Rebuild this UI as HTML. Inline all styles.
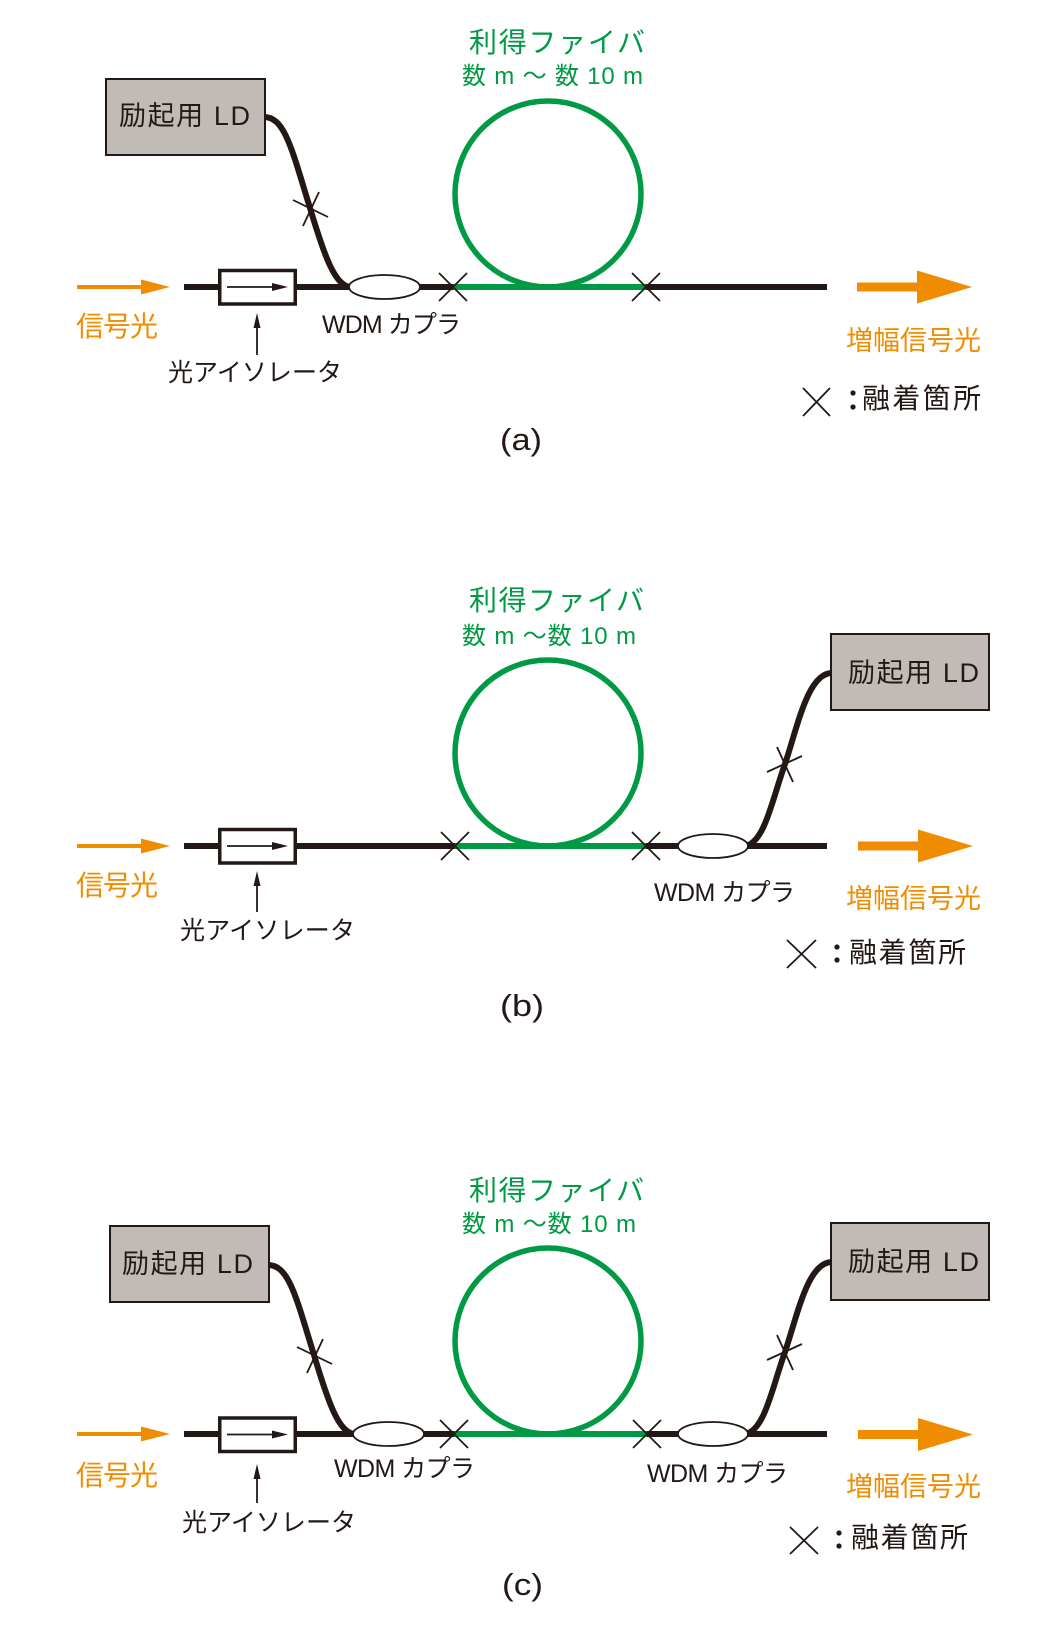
<!DOCTYPE html>
<html><head><meta charset="utf-8"><style>
html,body{margin:0;padding:0;background:#fff;}
svg{display:block;}
text{font-family:"Liberation Sans","Noto Sans CJK JP",sans-serif;}
</style></head><body>
<svg width="1042" height="1638" viewBox="0 0 1042 1638" xmlns="http://www.w3.org/2000/svg">
<rect width="1042" height="1638" fill="#fff"/>
<defs>
<g id="orIn">
  <line x1="77" y1="0" x2="145" y2="0" stroke="#f08c00" stroke-width="4"/>
  <polygon points="141,-7.5 170,0 141,7.5" fill="#f08c00"/>
</g>
<g id="orOut">
  <rect x="857" y="-4.5" width="63" height="9" fill="#f08c00"/>
  <polygon points="917,-16.5 972,0 917,16.5" fill="#f08c00"/>
</g>
<g id="iso">
  <rect x="219.75" y="-16.5" width="75.5" height="33.5" fill="#fff" stroke="#231815" stroke-width="3.5"/>
  <line x1="227" y1="0" x2="276" y2="0" stroke="#231815" stroke-width="1.8"/>
  <polygon points="272,-4 288,0 272,4" fill="#231815"/>
</g>
</defs>

<!-- ================= (a) ================= -->
<g>
  <use href="#orIn" transform="translate(0,287)"/>
  <line x1="184" y1="287" x2="455" y2="287" stroke="#231815" stroke-width="6"/>
  <line x1="453" y1="287" x2="646" y2="287" stroke="#009a44" stroke-width="6"/>
  <line x1="646" y1="287" x2="827" y2="287" stroke="#231815" stroke-width="6"/>
  <circle cx="548" cy="194" r="93" fill="none" stroke="#009a44" stroke-width="5.5"/>
  <use href="#iso" transform="translate(0,287)"/>
  <path d="M264,117 C285,117 292,150 310,208 C325,258 335,285 350,287" fill="none" stroke="#231815" stroke-width="6"/>
  <ellipse cx="384.5" cy="287" rx="35.5" ry="12" fill="#fff" stroke="#231815" stroke-width="1.8"/>
  <rect x="106" y="79" width="159" height="76" fill="#c0bbb6" stroke="#231815" stroke-width="2"/>
  <g stroke="#231815" stroke-width="1.8">
    <line x1="439" y1="273" x2="467" y2="301"/><line x1="439" y1="301" x2="467" y2="273"/>
    <line x1="632" y1="273" x2="660" y2="301"/><line x1="632" y1="301" x2="660" y2="273"/>
    <line x1="293" y1="200" x2="328" y2="217"/><line x1="303" y1="226" x2="319" y2="192"/>
    <line x1="803" y1="388" x2="830" y2="416"/><line x1="803" y1="416" x2="830" y2="388"/>
    <line x1="257" y1="355" x2="257" y2="325"/>
  </g>
  <polygon points="253.5,328 257,313 260.5,328" fill="#231815"/>
  <use href="#orOut" transform="translate(0,287)"/>
  <circle cx="853" cy="393" r="2.6" fill="#231815"/><circle cx="853" cy="407" r="2.6" fill="#231815"/>

  <text x="469" y="52" font-size="28" fill="#009a44" textLength="176" lengthAdjust="spacing">利得ファイバ</text>
  <text x="462" y="84" font-size="24" fill="#009a44" textLength="181" lengthAdjust="spacing">数 m ～ 数 10 m</text>
  <text x="119" y="125" font-size="27" fill="#231815" textLength="131" lengthAdjust="spacing">励起用 LD</text>
  <text x="76" y="336" font-size="28" fill="#f08c00" textLength="82" lengthAdjust="spacing">信号光</text>
  <text x="168" y="381" font-size="25" fill="#231815" textLength="174" lengthAdjust="spacing">光アイソレータ</text>
  <text x="322" y="333" font-size="25" fill="#231815" textLength="139" lengthAdjust="spacing">WDM カプラ</text>
  <text x="846" y="350" font-size="27" fill="#f08c00" textLength="135" lengthAdjust="spacing">増幅信号光</text>
  <text x="862" y="408" font-size="28" fill="#231815" textLength="119" lengthAdjust="spacing">融着箇所</text>
  <text x="500" y="450" font-size="31" fill="#231815" textLength="42" lengthAdjust="spacingAndGlyphs">(a)</text>
</g>

<!-- ================= (b) ================= -->
<g>
  <use href="#orIn" transform="translate(0,846)"/>
  <line x1="184" y1="846" x2="456" y2="846" stroke="#231815" stroke-width="6"/>
  <line x1="455" y1="846" x2="646" y2="846" stroke="#009a44" stroke-width="6"/>
  <line x1="646" y1="846" x2="827" y2="846" stroke="#231815" stroke-width="6"/>
  <circle cx="548" cy="753" r="93" fill="none" stroke="#009a44" stroke-width="5.5"/>
  <use href="#iso" transform="translate(0,846)"/>
  <path d="M746,846 C765,841 772,800 785,764 C798,725 808,673 832,673" fill="none" stroke="#231815" stroke-width="6"/>
  <ellipse cx="713" cy="846" rx="35" ry="12" fill="#fff" stroke="#231815" stroke-width="1.8"/>
  <rect x="831" y="634" width="158" height="76" fill="#c0bbb6" stroke="#231815" stroke-width="2"/>
  <g stroke="#231815" stroke-width="1.8">
    <line x1="441" y1="832" x2="469" y2="860"/><line x1="441" y1="860" x2="469" y2="832"/>
    <line x1="632" y1="832" x2="660" y2="860"/><line x1="632" y1="860" x2="660" y2="832"/>
    <line x1="767" y1="772" x2="802" y2="756"/><line x1="777" y1="747" x2="793" y2="782"/>
    <line x1="787" y1="940" x2="816" y2="968"/><line x1="787" y1="968" x2="816" y2="940"/>
    <line x1="257" y1="912" x2="257" y2="883"/>
  </g>
  <polygon points="253.5,886 257,871 260.5,886" fill="#231815"/>
  <use href="#orOut" transform="translate(1,846)"/>
  <circle cx="837" cy="947" r="2.6" fill="#231815"/><circle cx="837" cy="960" r="2.6" fill="#231815"/>

  <text x="469" y="610" font-size="28" fill="#009a44" textLength="175" lengthAdjust="spacing">利得ファイバ</text>
  <text x="462" y="644" font-size="24" fill="#009a44" textLength="174" lengthAdjust="spacing">数 m ～数 10 m</text>
  <text x="848" y="682" font-size="27" fill="#231815" textLength="131" lengthAdjust="spacing">励起用 LD</text>
  <text x="76" y="895" font-size="28" fill="#f08c00" textLength="82" lengthAdjust="spacing">信号光</text>
  <text x="180" y="939" font-size="25" fill="#231815" textLength="175" lengthAdjust="spacing">光アイソレータ</text>
  <text x="654" y="901" font-size="25" fill="#231815" textLength="141" lengthAdjust="spacing">WDM カプラ</text>
  <text x="846" y="908" font-size="27" fill="#f08c00" textLength="135" lengthAdjust="spacing">増幅信号光</text>
  <text x="849" y="962" font-size="28" fill="#231815" textLength="117" lengthAdjust="spacing">融着箇所</text>
  <text x="500" y="1016" font-size="31" fill="#231815" textLength="44" lengthAdjust="spacingAndGlyphs">(b)</text>
</g>

<!-- ================= (c) ================= -->
<g>
  <use href="#orIn" transform="translate(0,1434)"/>
  <line x1="184" y1="1434" x2="455" y2="1434" stroke="#231815" stroke-width="6"/>
  <line x1="454" y1="1434" x2="647" y2="1434" stroke="#009a44" stroke-width="6"/>
  <line x1="647" y1="1434" x2="827" y2="1434" stroke="#231815" stroke-width="6"/>
  <circle cx="548" cy="1341" r="93" fill="none" stroke="#009a44" stroke-width="5.5"/>
  <use href="#iso" transform="translate(0,1434.5)"/>
  <path d="M268,1265 C289,1265 296,1297 314,1355 C329,1405 339,1432 354,1434" fill="none" stroke="#231815" stroke-width="6"/>
  <path d="M746,1434 C765,1429 772,1388 785,1352 C798,1313 808,1262 832,1262" fill="none" stroke="#231815" stroke-width="6"/>
  <ellipse cx="388.5" cy="1434" rx="35.5" ry="12" fill="#fff" stroke="#231815" stroke-width="1.8"/>
  <ellipse cx="713" cy="1434" rx="35" ry="12" fill="#fff" stroke="#231815" stroke-width="1.8"/>
  <rect x="110" y="1226" width="159" height="76" fill="#c0bbb6" stroke="#231815" stroke-width="2"/>
  <rect x="831" y="1223" width="158" height="77" fill="#c0bbb6" stroke="#231815" stroke-width="2"/>
  <g stroke="#231815" stroke-width="1.8">
    <line x1="440" y1="1420" x2="468" y2="1448"/><line x1="440" y1="1448" x2="468" y2="1420"/>
    <line x1="633" y1="1420" x2="661" y2="1448"/><line x1="633" y1="1448" x2="661" y2="1420"/>
    <line x1="297" y1="1347" x2="332" y2="1364"/><line x1="307" y1="1373" x2="323" y2="1339"/>
    <line x1="767" y1="1360" x2="802" y2="1344"/><line x1="777" y1="1335" x2="793" y2="1370"/>
    <line x1="790" y1="1527" x2="818" y2="1554"/><line x1="790" y1="1554" x2="818" y2="1527"/>
    <line x1="257" y1="1503" x2="257" y2="1476"/>
  </g>
  <polygon points="253.5,1479 257,1464 260.5,1479" fill="#231815"/>
  <use href="#orOut" transform="translate(1,1434.5)"/>
  <circle cx="839" cy="1533" r="2.6" fill="#231815"/><circle cx="839" cy="1546" r="2.6" fill="#231815"/>

  <text x="469" y="1200" font-size="28" fill="#009a44" textLength="175" lengthAdjust="spacing">利得ファイバ</text>
  <text x="462" y="1232" font-size="24" fill="#009a44" textLength="174" lengthAdjust="spacing">数 m ～数 10 m</text>
  <text x="122" y="1273" font-size="27" fill="#231815" textLength="131" lengthAdjust="spacing">励起用 LD</text>
  <text x="848" y="1271" font-size="27" fill="#231815" textLength="131" lengthAdjust="spacing">励起用 LD</text>
  <text x="76" y="1485" font-size="28" fill="#f08c00" textLength="82" lengthAdjust="spacing">信号光</text>
  <text x="182" y="1531" font-size="25" fill="#231815" textLength="174" lengthAdjust="spacing">光アイソレータ</text>
  <text x="334" y="1477" font-size="25" fill="#231815" textLength="141" lengthAdjust="spacing">WDM カプラ</text>
  <text x="647" y="1482" font-size="25" fill="#231815" textLength="141" lengthAdjust="spacing">WDM カプラ</text>
  <text x="846" y="1496" font-size="27" fill="#f08c00" textLength="135" lengthAdjust="spacing">増幅信号光</text>
  <text x="851" y="1547" font-size="28" fill="#231815" textLength="117" lengthAdjust="spacing">融着箇所</text>
  <text x="502" y="1595" font-size="31" fill="#231815" textLength="41" lengthAdjust="spacingAndGlyphs">(c)</text>
</g>
</svg>
</body></html>
